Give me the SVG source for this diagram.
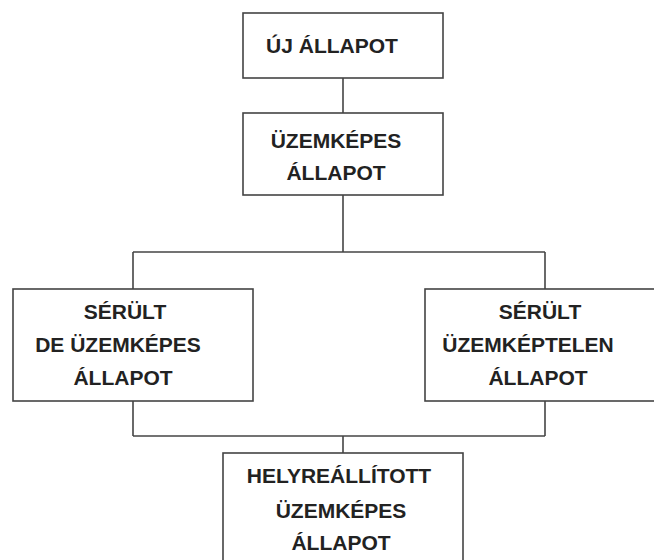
<svg xmlns="http://www.w3.org/2000/svg" width="654" height="560" viewBox="0 0 654 560">
<style>
.box{fill:#fff;stroke:#444;stroke-width:1.6}
.con{fill:none;stroke:#444;stroke-width:1.6}
text{font-family:"Liberation Sans",Arial,sans-serif;font-weight:bold;font-size:21px;fill:#222;text-anchor:middle}
</style>
<rect width="654" height="560" fill="#fff"/>
<g id="connectors">
<path class="con" d="M343 78V113"/>
<path class="con" d="M343 195V252"/>
<path class="con" d="M133 252H545"/>
<path class="con" d="M133 252V289"/>
<path class="con" d="M545 252V289"/>
<path class="con" d="M133 401V436"/>
<path class="con" d="M545 401V436"/>
<path class="con" d="M133 436H545"/>
<path class="con" d="M343 436V453"/>
</g>
<g id="n1">
<rect class="box" x="243" y="13" width="200" height="65"/>
<text x="332" y="53">ÚJ ÁLLAPOT</text>
</g>
<g id="n2">
<rect class="box" x="243" y="113" width="200" height="82"/>
<text x="336" y="148">ÜZEMKÉPES</text>
<text x="336" y="180">ÁLLAPOT</text>
</g>
<g id="n3">
<rect class="box" x="13" y="289" width="240" height="112"/>
<text x="125" y="319">SÉRÜLT</text>
<text x="118" y="352">DE ÜZEMKÉPES</text>
<text x="123" y="385">ÁLLAPOT</text>
</g>
<g id="n4">
<rect class="box" x="425" y="289" width="240" height="112"/>
<text x="540" y="319">SÉRÜLT</text>
<text x="528" y="352">ÜZEMKÉPTELEN</text>
<text x="538" y="385">ÁLLAPOT</text>
</g>
<g id="n5">
<rect class="box" x="223" y="453" width="240" height="120"/>
<text x="339" y="483">HELYREÁLLÍTOTT</text>
<text x="341" y="518">ÜZEMKÉPES</text>
<text x="341" y="550">ÁLLAPOT</text>
</g>
</svg>
